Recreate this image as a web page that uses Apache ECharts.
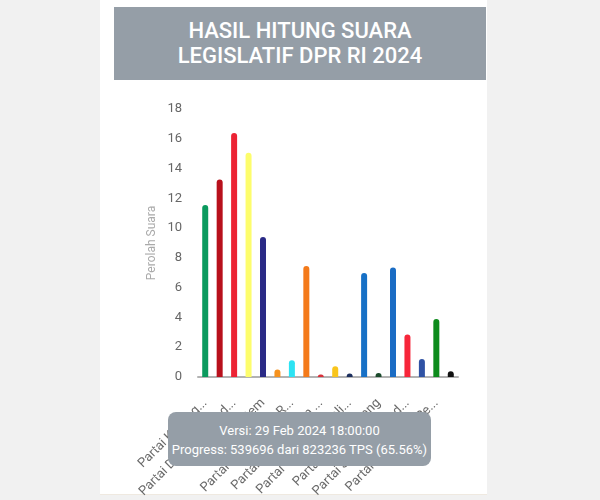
<!DOCTYPE html>
<html>
<head>
<meta charset="utf-8">
<script src="https://cdn.jsdelivr.net/npm/echarts@6/dist/echarts.min.js"></script>
<style>
  html, body { margin: 0; padding: 0; width: 600px; height: 500px; overflow: hidden; background: #f1f1f1; font-family: Roboto, "Noto Sans", sans-serif; }
  #card { position: absolute; left: 100px; top: 0; width: 387px; height: 494px; background: #ffffff; border-bottom: 1px solid #efe9e0; }
  #title { position: absolute; left: 114px; top: 7px; width: 372px; height: 73px; background: #959ea7; color: #ffffff;
           font-size: 22px; font-weight: 500; text-align: center; line-height: 25px; box-sizing: border-box; padding-top: 11px; white-space: nowrap; }
  #chart { position: absolute; left: 0; top: 0; width: 600px; height: 500px; }
  #info { position: absolute; left: 168px; top: 412px; width: 263px; height: 54px; background: #959ea7; color: #ffffff;
          border-radius: 8px; font-size: 13px; text-align: center; line-height: 19px; box-sizing: border-box; padding-top: 9px; white-space: nowrap; }
</style>
</head>
<body>
<div id="card"></div>
<div id="title">HASIL HITUNG SUARA<br>LEGISLATIF DPR RI 2024</div>
<div id="chart"></div>
<div id="info">Versi: 29 Feb 2024 18:00:00<br>Progress: 539696 dari 823236 TPS (65.56%)</div>
<script>
const categories = [
  "Partai Kebangkitan Bangsa",
  "Partai Gerakan Indonesia Raya",
  "Partai Demokrasi Indonesia Perjuangan",
  "Partai Golongan Karya",
  "Partai NasDem",
  "Partai Buruh",
  "Partai Gelombang Rakyat Indonesia",
  "Partai Keadilan Sejahtera",
  "Partai Kebangkitan Nusantara",
  "Partai Hati Nurani Rakyat",
  "Partai Garda Republik Indonesia",
  "Partai Amanat Nasional",
  "Partai Bulan Bintang",
  "Partai Demokrat",
  "Partai Solidaritas Indonesia",
  "Partai Persatuan Indonesia",
  "Partai Persatuan Pembangunan",
  "Partai Ummat"
];
const tickLabels = [
  "Partai Kebang...",
  "Partai Gerakan Indo...",
  "Partai Demokrasi Ind...",
  "Partai Golongan Karya",
  "Partai NasDem",
  "Partai Buruh",
  "Partai Gelombang R...",
  "Partai Keadilan Seja...",
  "Partai Kebangkitan ...",
  "Partai Hati Nurani R...",
  "Partai Garda Republi...",
  "Partai Amanat Nasi...",
  "Partai Bulan Bintang",
  "Partai Demokrat",
  "Partai Solidaritas Ind...",
  "Partai Persatuan Ind...",
  "Partai Persatuan Pe...",
  "Partai Ummat"
];
const values = [11.55, 13.26, 16.38, 15.06, 9.40, 0.50, 1.12, 7.45, 0.17, 0.72, 0.23, 6.98, 0.27, 7.36, 2.86, 1.21, 3.90, 0.38];
const colors = ["#0b9a5e", "#b8101c", "#ec2334", "#fdfd6c", "#2a2a86", "#f6921e", "#2de3f3", "#f47a1a", "#d8313a", "#f9c51c",
                "#1c2f5e", "#1770c6", "#1b4a2c", "#1a6cc4", "#f7263a", "#2f52a4", "#0d8b1c", "#111111"];
const yTicks = { min: 0, max: 18, interval: 2 };

const chart = echarts.init(document.getElementById('chart'), null, { renderer: 'canvas' });
chart.setOption({
  backgroundColor: 'transparent',
  animation: false,
  textStyle: { fontFamily: 'Roboto, "Noto Sans", sans-serif' },
  grid: { left: 198, right: 142, top: 109, bottom: 123, containLabel: false, outerBoundsMode: 'none' },
  xAxis: {
    type: 'category',
    data: categories,
    axisLine: { show: true, lineStyle: { color: '#b3b3b3', width: 2 } },
    axisTick: { show: false },
    axisLabel: {
      rotate: 45, interval: 1, fontSize: 13, color: '#6a6a6a', margin: 24,
      formatter: function (v, i) { return tickLabels[i]; }
    },
    splitLine: { show: false }
  },
  yAxis: {
    type: 'value',
    min: yTicks.min, max: yTicks.max, interval: yTicks.interval,
    name: 'Perolah Suara', nameLocation: 'middle', nameGap: 40, nameRotate: 90,
    nameTextStyle: { color: '#aaaaaa', fontSize: 12 },
    axisLine: { show: false }, axisTick: { show: false }, splitLine: { show: false },
    axisLabel: { fontSize: 13, color: '#666666', margin: 16 }
  },
  series: [{
    type: 'bar',
    barWidth: 6,
    data: values.map(function (v, i) { return { value: v, itemStyle: { color: colors[i] } }; }),
    itemStyle: { borderRadius: [3, 3, 0, 0] }
  }]
});
</script>
</body>
</html>
